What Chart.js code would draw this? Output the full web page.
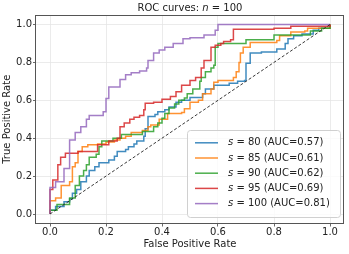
<!DOCTYPE html>
<html><head><meta charset="utf-8">
<script src="https://cdn.jsdelivr.net/npm/chart.js@4"></script>
<style>html,body{margin:0;padding:0;background:#fff}#c{display:block}</style>
</head><body>
<canvas id="c" width="349" height="254"></canvas>
<script>
const tickValues = [0, 0.2, 0.4, 0.6, 0.8, 1.0];
const tickLabels = ['0.0', '0.2', '0.4', '0.6', '0.8', '1.0'];
const sValues = [80, 85, 90, 95, 100];
const aucValues = ['0.57', '0.61', '0.62', '0.69', '0.81'];
const colors = ['rgba(31,119,180,0.85)', 'rgba(255,127,14,0.85)', 'rgba(44,160,44,0.85)', 'rgba(214,39,40,0.85)', 'rgba(148,103,189,0.85)'];

const fpr80 = [0, 0, 0.02, 0.05, 0.07, 0.08, 0.095, 0.11, 0.13, 0.14, 0.16, 0.175, 0.21, 0.23, 0.24, 0.27, 0.28, 0.3, 0.31, 0.335, 0.34, 0.35, 0.375, 0.385, 0.41, 0.425, 0.45, 0.47, 0.5, 0.545, 0.555, 0.585, 0.64, 0.67, 0.695, 0.7, 0.715, 0.755, 0.81, 0.84, 0.85, 0.87, 0.9, 0.94, 0.96, 1.0];
const tpr80 = [0, 0.02, 0.04, 0.065, 0.08, 0.11, 0.13, 0.17, 0.2, 0.23, 0.25, 0.27, 0.285, 0.305, 0.33, 0.34, 0.355, 0.37, 0.385, 0.41, 0.45, 0.515, 0.525, 0.54, 0.55, 0.565, 0.59, 0.6, 0.615, 0.635, 0.66, 0.68, 0.69, 0.7, 0.705, 0.795, 0.85, 0.855, 0.87, 0.9, 0.925, 0.94, 0.95, 0.97, 0.98, 1.0];

const fpr85 = [0, 0, 0.02, 0.04, 0.07, 0.08, 0.09, 0.1, 0.115, 0.135, 0.17, 0.2, 0.23, 0.25, 0.27, 0.29, 0.33, 0.35, 0.36, 0.39, 0.42, 0.47, 0.48, 0.5, 0.53, 0.545, 0.575, 0.585, 0.6, 0.655, 0.665, 0.675, 0.68, 0.69, 0.715, 0.81, 0.82, 0.86, 0.91, 0.92, 1.0];
const tpr85 = [0, 0.07, 0.085, 0.15, 0.17, 0.25, 0.27, 0.33, 0.355, 0.365, 0.37, 0.38, 0.39, 0.4, 0.41, 0.43, 0.44, 0.46, 0.47, 0.5, 0.53, 0.535, 0.555, 0.59, 0.6, 0.635, 0.66, 0.695, 0.705, 0.72, 0.75, 0.8, 0.85, 0.88, 0.905, 0.915, 0.94, 0.96, 0.965, 0.98, 1.0];

const fpr90 = [0, 0, 0.025, 0.07, 0.09, 0.105, 0.12, 0.13, 0.14, 0.165, 0.175, 0.185, 0.225, 0.255, 0.33, 0.37, 0.385, 0.4, 0.41, 0.425, 0.445, 0.46, 0.48, 0.49, 0.51, 0.535, 0.54, 0.555, 0.575, 0.585, 0.59, 0.6, 0.7, 0.8, 0.93, 0.97, 1.0];
const tpr90 = [0, 0.02, 0.05, 0.085, 0.15, 0.2, 0.23, 0.26, 0.3, 0.315, 0.355, 0.385, 0.4, 0.42, 0.435, 0.46, 0.48, 0.505, 0.53, 0.56, 0.58, 0.6, 0.612, 0.635, 0.66, 0.7, 0.72, 0.75, 0.77, 0.785, 0.88, 0.9, 0.92, 0.945, 0.965, 0.98, 1.0];

const fpr95 = [0, 0, 0.01, 0.028, 0.038, 0.055, 0.1, 0.17, 0.21, 0.24, 0.25, 0.265, 0.285, 0.3, 0.32, 0.335, 0.34, 0.37, 0.4, 0.43, 0.45, 0.47, 0.5, 0.52, 0.54, 0.55, 0.575, 0.59, 0.61, 0.62, 0.645, 0.655, 0.8, 0.86, 1.0];
const tpr95 = [0, 0.13, 0.18, 0.26, 0.3, 0.32, 0.33, 0.365, 0.385, 0.4, 0.46, 0.48, 0.5, 0.51, 0.52, 0.55, 0.585, 0.59, 0.605, 0.62, 0.645, 0.68, 0.705, 0.72, 0.77, 0.81, 0.88, 0.89, 0.9, 0.91, 0.92, 0.975, 0.98, 0.99, 1.0];

const fpr100 = [0, 0, 0.02, 0.05, 0.07, 0.09, 0.11, 0.13, 0.14, 0.19, 0.2, 0.21, 0.25, 0.27, 0.29, 0.32, 0.345, 0.35, 0.37, 0.39, 0.41, 0.44, 0.475, 0.5, 0.55, 0.59, 0.6, 1.0];
const tpr100 = [0, 0.14, 0.17, 0.24, 0.39, 0.43, 0.46, 0.5, 0.52, 0.54, 0.61, 0.67, 0.71, 0.735, 0.745, 0.755, 0.77, 0.81, 0.85, 0.865, 0.88, 0.9, 0.925, 0.93, 0.945, 0.97, 1.0, 1.0];

const diagX = [0, 1];
const diagY = [0, 1];

const fprs = [fpr80, fpr85, fpr90, fpr95, fpr100];
const tprs = [tpr80, tpr85, tpr90, tpr95, tpr100];
const FONT = '"DejaVu Sans", sans-serif';

const datasets = sValues.map((s, i) => ({
  label: 's = ' + s + ' (AUC=' + aucValues[i] + ')',
  sName: 's',
  sRest: ' = ' + s + ' (AUC=' + aucValues[i] + ')',
  data: fprs[i].map((x, j) => ({x: x, y: tprs[i][j]})),
  borderColor: colors[i],
  borderWidth: 1.5,
  pointRadius: 0,
  fill: false,
  stepped: true,
  order: 5 - i
}));
datasets.push({
  label: 'chance',
  isDiag: true,
  data: diagX.map((x, j) => ({x: x, y: diagY[j]})),
  borderColor: '#222',
  borderWidth: 0.9,
  borderDash: [3, 2],
  pointRadius: 0,
  fill: false,
  order: 0
});

const decorPlugin = {
  id: 'decor',
  afterDraw(chart) {
    const ctx = chart.ctx;
    const a = chart.chartArea;
    ctx.save();
    // frame
    ctx.strokeStyle = '#555';
    ctx.lineWidth = 1;
    const l = Math.round(a.left) - 0.5, t = Math.round(a.top) + 0.5;
    const r = Math.round(a.right) - 0.5, b = Math.round(a.bottom) - 0.5;
    ctx.strokeRect(l, t, r - l, b - t);
    // title
    ctx.fillStyle = '#222';
    ctx.textBaseline = 'middle';
    const p1 = 'ROC curves: ', p2 = 'n', p3 = ' = 100';
    ctx.font = '10px ' + FONT;
    const w1 = ctx.measureText(p1).width, w3 = ctx.measureText(p3).width;
    ctx.font = 'italic 10px ' + FONT;
    const w2 = ctx.measureText(p2).width;
    let x0 = (a.left + a.right) / 2 - (w1 + w2 + w3) / 2;
    const ty = 8;
    ctx.textAlign = 'left';
    ctx.font = '10px ' + FONT; ctx.fillText(p1, x0, ty);
    ctx.font = 'italic 10px ' + FONT; ctx.fillText(p2, x0 + w1, ty);
    ctx.font = '10px ' + FONT; ctx.fillText(p3, x0 + w1 + w2, ty);
    // legend
    const bx = 187.5, by = 130.5, bw = 153, bh = 87, rad = 3;
    ctx.beginPath();
    ctx.moveTo(bx + rad, by);
    ctx.arcTo(bx + bw, by, bx + bw, by + bh, rad);
    ctx.arcTo(bx + bw, by + bh, bx, by + bh, rad);
    ctx.arcTo(bx, by + bh, bx, by, rad);
    ctx.arcTo(bx, by, bx + bw, by, rad);
    ctx.closePath();
    ctx.fillStyle = 'rgba(255,255,255,0.8)';
    ctx.fill();
    ctx.strokeStyle = '#d0d0d0';
    ctx.lineWidth = 1;
    ctx.stroke();
    chart.data.datasets.forEach((ds, i) => {
      if (ds.isDiag) return;
      const yy = 142.8 + i * 15.2;
      ctx.beginPath();
      ctx.strokeStyle = ds.borderColor;
      ctx.lineWidth = ds.borderWidth;
      ctx.moveTo(195, yy);
      ctx.lineTo(218, yy);
      ctx.stroke();
      ctx.fillStyle = '#222';
      ctx.font = 'italic 10px ' + FONT;
      ctx.fillText(ds.sName, 228, yy);
      const ws = ctx.measureText(ds.sName).width;
      ctx.font = '10px ' + FONT;
      ctx.fillText(ds.sRest, 228 + ws, yy);
    });
    ctx.restore();
  }
};

function tickCb(v) {
  const k = tickValues.findIndex(t => Math.abs(t - v) < 1e-9);
  return k >= 0 ? tickLabels[k] : '';
}
function axis(titleText, isX) {
  return {
    type: 'linear',
    min: -0.05,
    max: 1.05,
    afterBuildTicks: s => { s.ticks = tickValues.map(v => ({value: v})); },
    ticks: {callback: tickCb, font: {family: FONT, size: 10}, color: '#222', padding: isX ? 0 : 1, maxRotation: 0, autoSkip: false},
    grid: {color: '#e6e6e6', lineWidth: 0.8, tickLength: 3, tickColor: '#444', tickWidth: 0.8},
    border: {display: false},
    title: {display: true, text: titleText, font: {family: FONT, size: 10}, color: '#222',
      padding: isX ? {top: 0, bottom: 4} : {top: 1.5, bottom: 0}},
    afterFit: s => { if (isX) s.height = 30.5; else s.width = 36; }
  };
}

new Chart(document.getElementById('c'), {
  type: 'line',
  data: {datasets: datasets},
  options: {
    responsive: false,
    animation: false,
    layout: {padding: {top: 15, right: 5, bottom: 0, left: 0}},
    plugins: {legend: {display: false}, title: {display: false}, tooltip: {enabled: false}},
    scales: {x: axis('False Positive Rate', true), y: axis('True Positive Rate', false)}
  },
  plugins: [decorPlugin]
});
</script>
</body></html>
